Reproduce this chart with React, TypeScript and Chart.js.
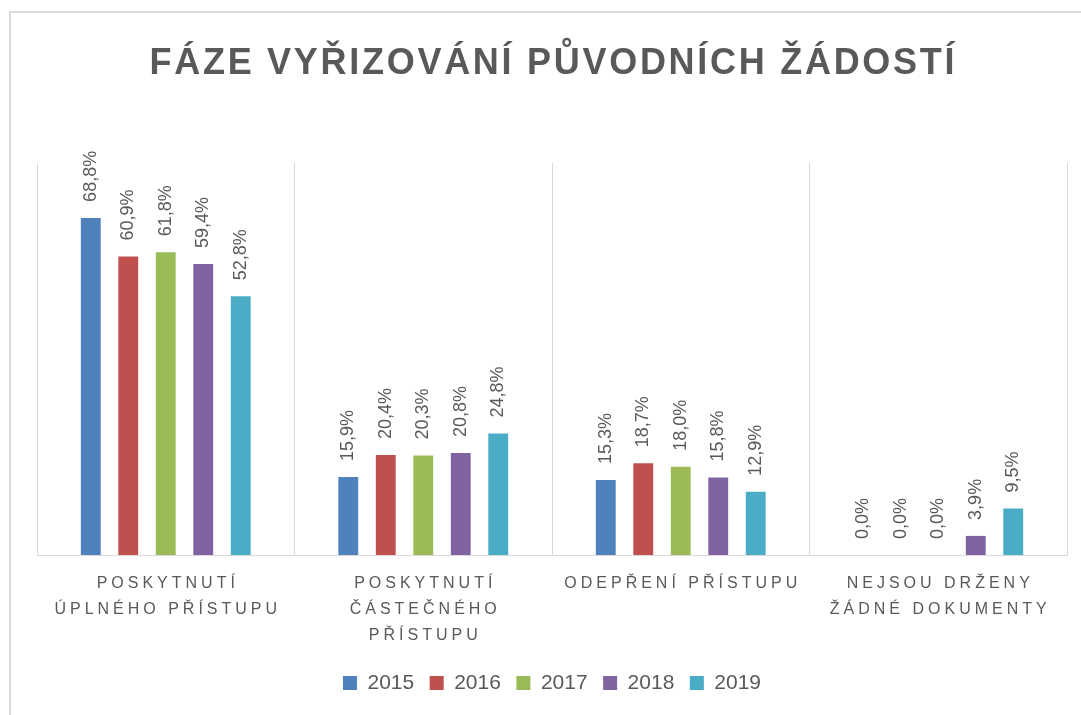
import React, { useEffect, useRef } from "react";
import { Chart, registerables } from "chart.js";

Chart.register(...registerables);

const TITLE = "FÁZE VYŘIZOVÁNÍ PŮVODNÍCH ŽÁDOSTÍ";
const categories: string[][] = [
  ["POSKYTNUTÍ", "ÚPLNÉHO PŘÍSTUPU"],
  ["POSKYTNUTÍ", "ČÁSTEČNÉHO", "PŘÍSTUPU"],
  ["ODEPŘENÍ PŘÍSTUPU"],
  ["NEJSOU DRŽENY", "ŽÁDNÉ DOKUMENTY"],
];
const years = ["2015", "2016", "2017", "2018", "2019"];
const values2015 = [68.8, 15.9, 15.3, 0.0];
const values2016 = [60.9, 20.4, 18.7, 0.0];
const values2017 = [61.8, 20.3, 18.0, 0.0];
const values2018 = [59.4, 20.8, 15.8, 3.9];
const values2019 = [52.8, 24.8, 12.9, 9.5];
const seriesValues = [values2015, values2016, values2017, values2018, values2019];
const colors = ["#4F81BD", "#C0504D", "#9BBB59", "#8064A2", "#4BACC6"];

const TEXT = "#595959";
const FONT = "'Liberation Sans', Arial, sans-serif";

function spacedText(ctx: CanvasRenderingContext2D, text: string, cx: number, y: number, spacing: number) {
  const chars = Array.from(text);
  const widths = chars.map((c) => ctx.measureText(c).width);
  const total = widths.reduce((a, b) => a + b, 0) + spacing * (chars.length - 1);
  let x = cx - total / 2;
  ctx.textAlign = "left";
  chars.forEach((c, i) => {
    ctx.fillText(c, x, y);
    x += widths[i] + spacing;
  });
}

const decor = {
  id: "decor",
  beforeDraw(chart: any) {
    const ctx = chart.ctx as CanvasRenderingContext2D;
    ctx.save();
    ctx.strokeStyle = "#d9d9d9";
    ctx.lineWidth = 2;
    ctx.beginPath();
    ctx.moveTo(10, chart.height);
    ctx.lineTo(10, 12);
    ctx.lineTo(chart.width, 12);
    ctx.stroke();
    ctx.restore();
  },
  afterDatasetsDraw(chart: any) {
    const ctx = chart.ctx as CanvasRenderingContext2D;
    ctx.save();
    ctx.fillStyle = TEXT;
    ctx.font = `18px ${FONT}`;
    chart.data.datasets.forEach((ds: any, di: number) => {
      const meta = chart.getDatasetMeta(di);
      meta.data.forEach((el: any, i: number) => {
        const v = ds.data[i] as number;
        const label = v.toFixed(1).replace(".", ",") + "%";
        ctx.save();
        ctx.translate(el.x, el.y - 16);
        ctx.rotate(-Math.PI / 2);
        ctx.textAlign = "left";
        ctx.textBaseline = "middle";
        ctx.fillText(label, 0, 0);
        ctx.restore();
      });
    });
    ctx.restore();
  },
  afterDraw(chart: any) {
    const ctx = chart.ctx as CanvasRenderingContext2D;
    ctx.save();
    ctx.fillStyle = TEXT;
    ctx.textBaseline = "alphabetic";
    // title
    ctx.font = `bold 36px ${FONT}`;
    const chars = Array.from(TITLE);
    const natural = chars.reduce((a, c) => a + ctx.measureText(c).width, 0);
    const targetWidth = 805;
    const spacing = (targetWidth - natural) / (chars.length - 1);
    spacedText(ctx, TITLE, 552, 73.5, spacing);
    // category labels
    ctx.font = `16px ${FONT}`;
    const xScale = chart.scales.x;
    const base = xScale.top + 33;
    categories.forEach((lines, i) => {
      const cx = xScale.getPixelForValue(i);
      lines.forEach((line, li) => {
        spacedText(ctx, line, cx, base + li * 26, 4);
      });
    });
    ctx.restore();
  },
};

export default function App() {
  const ref = useRef<HTMLCanvasElement | null>(null);
  useEffect(() => {
    if (!ref.current) return;
    const chart = new Chart(ref.current, {
      type: "bar",
      data: {
        labels: categories,
        datasets: years.map((y, i) => ({
          label: y,
          data: seriesValues[i],
          backgroundColor: colors[i],
          borderWidth: 0,
          categoryPercentage: 0.728,
          barPercentage: 0.53,
        })),
      },
      options: {
        responsive: false,
        animation: false,
        layout: { padding: { left: 37, right: 14, top: 163, bottom: 11.5 } },
        plugins: {
          title: { display: false },
          tooltip: { enabled: false },
          legend: {
            position: "bottom",
            labels: {
              boxWidth: 14,
              boxHeight: 14,
              padding: 15.5,
              color: TEXT,
              font: { size: 21, family: FONT },
            },
          },
        },
        scales: {
          x: {
            offset: true,
            grid: { offset: true, color: "#d9d9d9", lineWidth: 1, drawTicks: false },
            border: { color: "#d9d9d9", width: 1 },
            ticks: { display: false },
            afterFit: (s: any) => {
              s.height = 102;
            },
          },
          y: {
            display: false,
            min: 0,
            max: 80,
          },
        },
      },
      plugins: [decor],
    });
    return () => chart.destroy();
  }, []);
  return (
    <div style={{ position: "fixed", left: 0, top: 0, width: 1081, height: 715, background: "#fff" }}>
      <canvas ref={ref} width={1081} height={715} style={{ display: "block" }} />
    </div>
  );
}
